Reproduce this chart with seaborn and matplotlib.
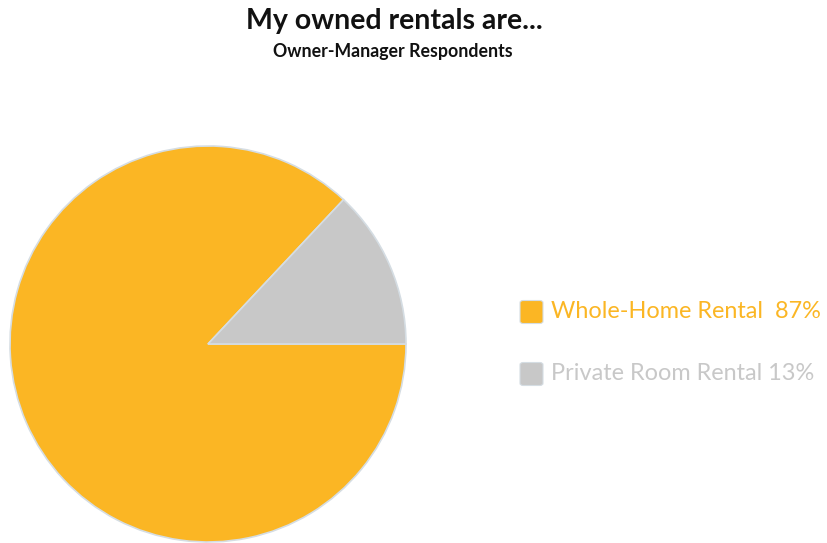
import matplotlib
matplotlib.use("Agg")
import matplotlib.pyplot as plt
from matplotlib.patches import FancyBboxPatch
import seaborn as sns

# Survey shares
categories = ["Whole-Home Rental", "Private Room Rental"]
shares = [87, 13]
legend_labels = ["Whole-Home Rental  87%", "Private Room Rental 13%"]
colors = ["#FBB624", "#C8C8C8"]

sns.set_theme(style="white")
plt.rcParams["font.family"] = ["Lato", "DejaVu Sans"]

W, H = 827, 543
fig = plt.figure(figsize=(W / 100, H / 100), dpi=100)

# Pie axes: centre (208, 344) px, radius 198 px
cx, cy, r = 208, 344, 198
ax = fig.add_axes([(cx - r) / W, (H - cy - r) / H, 2 * r / W, 2 * r / H])
ax.pie(
    shares,
    colors=colors,
    startangle=shares[1] / 100 * 360,
    counterclock=True,
    radius=1.0,
    wedgeprops=dict(edgecolor="#D5DDE3", linewidth=1.2),
)
ax.set_xlim(-1.0, 1.0)
ax.set_ylim(-1.0, 1.0)
ax.set_aspect("equal")
ax.axis("off")

# Titles
fig.text(394 / W, 1 - 21 / H, "My owned rentals are...", ha="center", va="center",
         fontsize=20.5, fontweight="bold", color="#111111")
fig.text(393 / W, 1 - 52 / H, "Owner-Manager Respondents", ha="center", va="center",
         fontsize=12.8, fontweight="bold", color="#111111")

# Legend with rounded square markers and coloured text
rows_y = [312, 374]
for label, col, y in zip(legend_labels, colors, rows_y):
    sq = 23
    box = FancyBboxPatch(
        (520 / W, (H - y - sq / 2) / H), sq / W, sq / H,
        boxstyle="round,pad=0,rounding_size=0.004",
        transform=fig.transFigure, facecolor=col,
        edgecolor="#D5DDE3", linewidth=0.8,
    )
    fig.patches.append(box)
    fig.text(551 / W, 1 - y / H, label, ha="left", va="center",
             fontsize=16.9, color=col)

fig.savefig("out.png", dpi=100, facecolor="white")
